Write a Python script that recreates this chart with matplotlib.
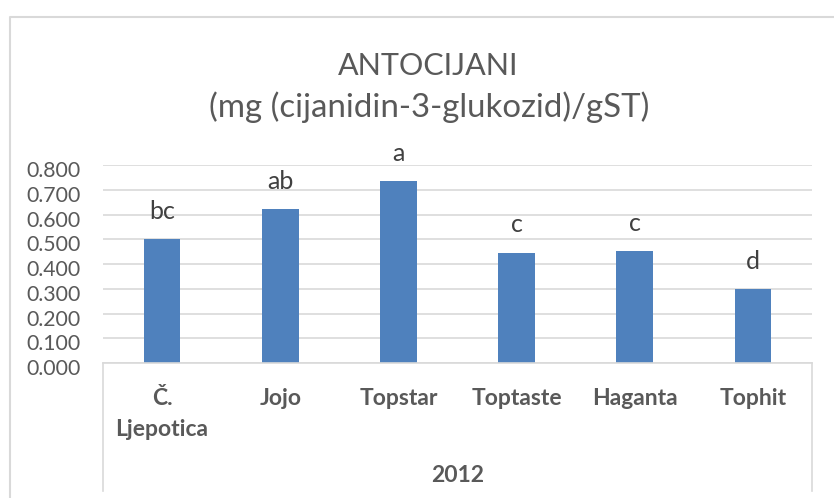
import matplotlib
matplotlib.use("Agg")
import matplotlib.pyplot as plt
from matplotlib.transforms import blended_transform_factory, ScaledTranslation
from matplotlib.lines import Line2D

plt.rcParams['font.family'] = ['Lato', 'DejaVu Sans']

categories = ["Č.\nLjepotica", "Jojo", "Topstar", "Toptaste", "Haganta", "Tophit"]
values = [0.502, 0.621, 0.736, 0.446, 0.451, 0.300]
letters = ["bc", "ab", "a", "c", "c", "d"]
yticks = [0.0, 0.1, 0.2, 0.3, 0.4, 0.5, 0.6, 0.7, 0.8]
group_label = "2012"
title_lines = ["ANTOCIJANI", "(mg (cijanidin-3-glukozid)/gST)"]

W, H = 834, 498
fig = plt.figure(figsize=(W / 100, H / 100), dpi=100)

def fx(px):
    return px / W

def fy(py):
    return 1 - py / H

left, right, top, bottom = 103, 812, 165, 363
ax = fig.add_axes([fx(left), fy(bottom), fx(right) - fx(left), fy(top) - fy(bottom)])

text_col = "#595959"
grid_col = "#D9D9D9"
bar_col = "#4F81BD"

x = list(range(len(categories)))
bars = ax.bar(x, values, width=0.31, color=bar_col, zorder=3)
ax.set_xlim(-0.5, len(categories) - 0.5)
ax.set_ylim(0, 0.8)
ax.set_yticks(yticks)
ax.set_yticklabels([f"{v:.3f}" for v in yticks], fontsize=15.3, color=text_col)
ax.tick_params(axis='y', length=0, pad=16)
off = ScaledTranslation(0, -4 / 100, fig.dpi_scale_trans)
for lab in ax.get_yticklabels():
    lab.set_transform(lab.get_transform() + off)
ax.set_xticks([])
ax.yaxis.grid(True, color=grid_col, linewidth=1.2, zorder=0)
for s in ["top", "left", "right"]:
    ax.spines[s].set_visible(False)
ax.spines["bottom"].set_color(grid_col)
ax.spines["bottom"].set_linewidth(1.2)
ax.spines["bottom"].set_zorder(4)

# letters above bars
for xi, v, l in zip(x, values, letters):
    ax.annotate(l, (xi, v), xytext=(0, 14.5), textcoords="offset points",
                ha="center", va="baseline", fontsize=18, color="#404040")

# category labels
tr = blended_transform_factory(ax.transData, fig.transFigure)
for xi, c in zip(x, categories):
    for j, line in enumerate(c.split("\n")):
        ax.text(xi, fy(405 + 31 * j), line, transform=tr, ha="center", va="baseline",
                fontsize=16.5, fontweight="bold", color=text_col)

ax.text((x[0] + x[-1]) / 2, fy(482), group_label, transform=tr, ha="center",
        va="baseline", fontsize=16.5, fontweight="bold", color=text_col)

# category axis box lines
for px in (left, right):
    fig.add_artist(Line2D([fx(px), fx(px)], [fy(bottom), fy(491)], color=grid_col,
                          linewidth=1.2, transform=fig.transFigure))

# outer chart border
fig.add_artist(Line2D([fx(10), fx(10), 1.0], [0.0, fy(17), fy(17)], color=grid_col,
                      linewidth=1.5, transform=fig.transFigure))

# title
fig.text(fx(428), fy(75), title_lines[0], ha="center", va="baseline", fontsize=22, color=text_col)
fig.text(fx(429.5), fy(117), title_lines[1], ha="center", va="baseline", fontsize=23.8, color=text_col)

fig.savefig("out.png", dpi=100)
